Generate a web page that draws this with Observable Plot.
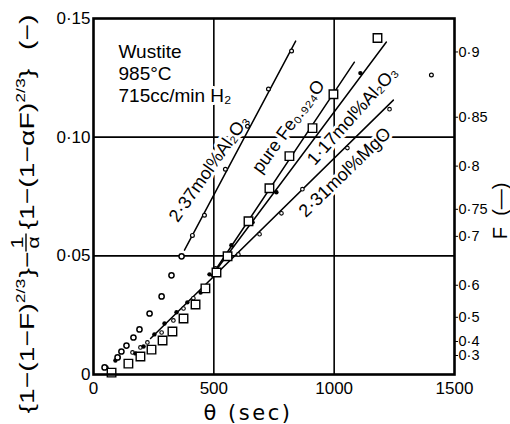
<!DOCTYPE html>
<html>
<head>
<meta charset="utf-8">
<script src="https://cdn.jsdelivr.net/npm/d3@7"></script>
<script src="https://cdn.jsdelivr.net/npm/@observablehq/plot@0.6"></script>
<style>
  html, body { margin: 0; padding: 0; background: #fff; }
  #chart svg { display: block; }
</style>
</head>
<body>
<div id="chart"></div>
<script>
// Reduction of wustite at 985 °C, 715 cc/min H2: kinetic function vs time θ (sec)

// 2.37 mol% Al2O3 — early (curved) part, larger open circles
const al237EarlyTheta = [46, 100, 116, 137, 166, 191, 233, 283, 324, 366];
const al237EarlyValue = [0.0030, 0.0072, 0.0097, 0.0122, 0.0156, 0.0190, 0.0257, 0.0329, 0.0418, 0.0498];
// 2.37 mol% Al2O3 — later part, small open circles
const al237Theta = [411, 461, 548, 640, 727, 823, 1404];
const al237Value = [0.0586, 0.0671, 0.0865, 0.1046, 0.1203, 0.1363, 0.1262];

// pure Fe0.924O — open squares
const pureTheta = [75, 145, 195, 241, 287, 328, 374, 424, 465, 511, 557, 644, 731, 814, 910, 997, 1180];
const pureValue = [0.0008, 0.0046, 0.0076, 0.0105, 0.0143, 0.0181, 0.0236, 0.0295, 0.0363, 0.0430, 0.0498, 0.0646, 0.0785, 0.0920, 0.1038, 0.1181, 0.1418];

// 1.17 mol% Al2O3 — filled dots
const al117Theta = [54, 91, 174, 208, 253, 295, 345, 390, 445, 482, 573, 661, 760, 1109];
const al117Value = [0.0030, 0.0059, 0.0089, 0.0118, 0.0169, 0.0215, 0.0262, 0.0304, 0.0345, 0.0422, 0.0545, 0.0641, 0.0768, 0.1270];

// 2.31 mol% MgO — small open circles
const mgoTheta = [104, 162, 195, 224, 283, 332, 374, 415, 507, 602, 690, 781, 868, 1055, 1230];
const mgoValue = [0.0072, 0.0093, 0.0114, 0.0135, 0.0177, 0.0228, 0.0278, 0.0321, 0.0447, 0.0506, 0.0591, 0.0679, 0.0781, 0.0954, 0.1118];

// straight lines drawn through the linear stage of each run (end points)
const al237LineTheta = [378, 840];   const al237LineValue = [0.0524, 0.1405];
const pureLineTheta  = [490, 1084];  const pureLineValue  = [0.0415, 0.1316];
const al117LineTheta = [495, 1217];  const al117LineValue = [0.0420, 0.1401];
const mgoLineTheta   = [237, 1246];  const mgoLineValue   = [0.0152, 0.1156];

// axis ticks
const thetaTicks = [0, 500, 1000, 1500];
const thetaTickLabels = ["0", "500", "1000", "1500"];
const valueTicks = [0, 0.05, 0.10, 0.15];
const valueTickLabels = ["0", "0·05", "0·10", "0·15"];
// fraction reduced F on the right, placed at its equivalent left-axis value
const fTickValues = [0.1359, 0.1084, 0.0878, 0.0696, 0.0582, 0.0376, 0.0241, 0.0139, 0.0080];
const fTickLabels = ["0·9", "0·85", "0·8", "0·75", "0·7", "0·6", "0·5", "0·4", "0·3"];

// grid
const gridTheta = [500, 1000];
const gridValue = [0.05, 0.10];

const rows = (xs, ys) => xs.map((x, i) => ({theta: x, value: ys[i]}));
const lookup = (keys, labels) => new Map(keys.map((k, i) => [k, labels[i]]));
const thetaFmt = lookup(thetaTicks, thetaTickLabels);
const valueFmt = lookup(valueTicks, valueTickLabels);
const fFmt = lookup(fTickValues, fTickLabels);

const FONT = "'Liberation Sans', Arial, Helvetica, sans-serif";
const WIDE = "'DejaVu Sans', Verdana, sans-serif";
const halo = {stroke: "white", strokeWidth: 6, fill: "black"};

const chart = Plot.plot({
  width: 510,
  height: 424,
  marginLeft: 93,
  marginRight: 56,
  marginTop: 18,
  marginBottom: 50,
  style: {fontFamily: FONT, background: "white", color: "black"},
  x: {domain: [0, 1500]},
  y: {domain: [0, 0.15]},
  marks: [
    Plot.ruleX(gridTheta, {stroke: "black", strokeWidth: 1.6}),
    Plot.ruleY(gridValue, {stroke: "black", strokeWidth: 1.6}),

    // conditions
    Plot.text(["Wustite\n985°C\n715cc/min H₂"], {
      frameAnchor: "top-left", dx: 25, dy: 24, lineAnchor: "top",
      textAnchor: "start", fontSize: 19, lineHeight: 1.15, ...halo
    }),

    // run labels along their lines
    Plot.text([{theta: 480, value: 0.0868, label: "2·37mol%Al₂O₃"}], {
      x: "theta", y: "value", text: "label", rotate: -55, fontSize: 18, ...halo
    }),
    Plot.text([{theta: 810, value: 0.1045, label: "pure Fe₀.₉₂₄O"}], {
      x: "theta", y: "value", text: "label", rotate: -54, fontSize: 18, ...halo
    }),
    Plot.text([{theta: 1076, value: 0.1090, label: "1·17mol%Al₂O₃"}], {
      x: "theta", y: "value", text: "label", rotate: -48, fontSize: 18, ...halo
    }),
    Plot.text([{theta: 1045, value: 0.0852, label: "2·31mol%MgO"}], {
      x: "theta", y: "value", text: "label", rotate: -44, fontSize: 18, ...halo
    }),

    // fitted lines
    Plot.line(rows(al237LineTheta, al237LineValue), {x: "theta", y: "value", stroke: "black", strokeWidth: 1.5}),
    Plot.line(rows(pureLineTheta, pureLineValue), {x: "theta", y: "value", stroke: "black", strokeWidth: 1.5}),
    Plot.line(rows(al117LineTheta, al117LineValue), {x: "theta", y: "value", stroke: "black", strokeWidth: 1.5}),
    Plot.line(rows(mgoLineTheta, mgoLineValue), {x: "theta", y: "value", stroke: "black", strokeWidth: 1.5}),

    // measured points
    Plot.dot(rows(mgoTheta, mgoValue), {x: "theta", y: "value", r: 1.8, stroke: "black", strokeWidth: 1.1, fill: "white"}),
    Plot.dot(rows(al117Theta, al117Value), {x: "theta", y: "value", r: 2.2, fill: "black", stroke: "none"}),
    Plot.dot(rows(pureTheta, pureValue), {x: "theta", y: "value", symbol: "square", r: 4.8, stroke: "black", strokeWidth: 1.4, fill: "white"}),
    Plot.dot(rows(al237EarlyTheta, al237EarlyValue), {x: "theta", y: "value", r: 2.6, stroke: "black", strokeWidth: 1.5, fill: "white"}),
    Plot.dot(rows(al237Theta, al237Value), {x: "theta", y: "value", r: 1.9, stroke: "black", strokeWidth: 1.2, fill: "white"}),

    // axes
    Plot.axisX(thetaTicks, {tickSize: 0, tickPadding: 7, fontSize: 17, label: null, tickFormat: d => thetaFmt.get(d)}),
    Plot.axisY(valueTicks, {anchor: "left", tickSize: 0, tickPadding: 3, fontSize: 17, label: null, tickFormat: d => valueFmt.get(d)}),
    Plot.axisY(fTickValues, {anchor: "right", tickSize: 3, tickPadding: 1, fontSize: 14.5, label: null, tickFormat: d => fFmt.get(d)}),
    Plot.frame({stroke: "black", strokeWidth: 2.6}),

    // axis titles
    Plot.text(["θ (sec)"], {frameAnchor: "bottom", dx: -26, dy: 39, fontSize: 21, fontFamily: WIDE, lineAnchor: "middle", className: "theta-title"}),
    Plot.text(["F  (—)"], {frameAnchor: "right", dx: 52, dy: -14, rotate: -90, fontSize: 20, lineAnchor: "bottom"})
  ]
});

document.getElementById("chart").appendChild(chart);

// the time title is set with open letter spacing
d3.select(chart).selectAll(".theta-title text").attr("letter-spacing", 2.5);

// Left axis title: {1−(1−F)^2/3} − (1/α){1−(1−αF)^2/3}  (−), written bottom to top
(function leftTitle() {
  const svg = d3.select(chart);
  const g = svg.append("g")
    .attr("font-family", FONT)
    .attr("fill", "black")
    .attr("text-anchor", "start");
  const inner = g.append("g");
  const parts = [
    {t: "{1−(1−F)", s: 21, v: 0},
    {t: "2/3", s: 13, v: -9},
    {t: "}−", s: 21, v: 0, pad: 1},
    {frac: ["1", "α"], s: 16},
    {t: "{1−(1−αF)", s: 21, v: 0, pad: 1},
    {t: "2/3", s: 13, v: -9},
    {t: "}", s: 21, v: 0},
    {t: "(−)", s: 21, v: 0, pad: 14}
  ];
  let u = 0;
  for (const p of parts) {
    u += p.pad || 0;
    if (p.frac) {
      const num = inner.append("text").attr("font-size", p.s).attr("y", -11).attr("text-anchor", "middle").text(p.frac[0]);
      const den = inner.append("text").attr("font-size", p.s).attr("y", 5).attr("text-anchor", "middle").text(p.frac[1]);
      const w = Math.max(num.node().getComputedTextLength(), den.node().getComputedTextLength()) + 4;
      num.attr("x", u + w / 2);
      den.attr("x", u + w / 2);
      inner.append("line").attr("x1", u).attr("x2", u + w).attr("y1", -8).attr("y2", -8)
        .attr("stroke", "black").attr("stroke-width", 1.4);
      u += w + 2;
    } else {
      const el = inner.append("text").attr("font-size", p.s).attr("x", u).attr("y", p.v).text(p.t);
      u += el.node().getComputedTextLength();
    }
  }
  const k = Math.max(0.9, Math.min(1.35, 408 / u));
  const cy = 214;
  g.attr("transform", `translate(34, ${cy + (u * k) / 2}) rotate(-90) scale(${k}, 1)`);
})();
</script>
</body>
</html>
